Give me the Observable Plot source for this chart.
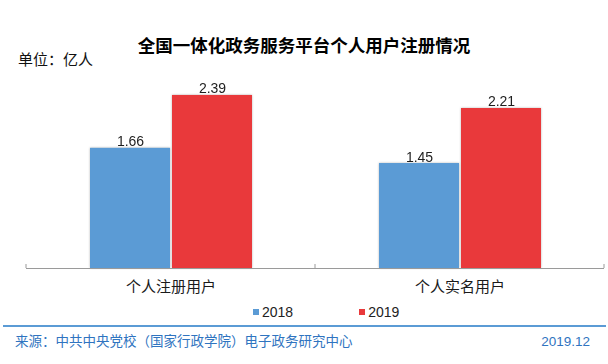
<!DOCTYPE html>
<html><head><meta charset="utf-8">
<script src="https://cdn.jsdelivr.net/npm/d3@7"></script>
<script src="https://cdn.jsdelivr.net/npm/@observablehq/plot@0.6"></script>
<style>
body{margin:0;background:#fff;}
#wrap{position:relative;width:608px;height:364px;overflow:hidden;font-family:"Noto Sans CJK SC","Noto Sans",sans-serif;}
.abs{position:absolute;white-space:nowrap;line-height:1;}
#chart{position:absolute;left:0;top:60px;}
</style></head><body>
<div id="wrap">
  <div class="abs" id="title" style="left:0;width:608px;text-align:center;top:36px;font-size:17.5px;font-weight:700;color:#000;"></div>
  <div class="abs" id="unit" style="left:18px;top:50.5px;font-size:15px;color:#111;"></div>
  <div id="chart"></div>
  <div class="abs" id="legend" style="left:253px;top:305px;height:14px;display:flex;align-items:center;font-family:'Liberation Sans',Arial,sans-serif;font-size:14px;color:#222;"></div>
  <div class="abs" style="left:3px;top:325px;width:603px;height:2px;background:#5B9BD5;"></div>
  <div class="abs" id="source" style="left:15px;top:334.2px;font-size:13.5px;color:#2f74c0;"></div>
  <div class="abs" id="date" style="right:18px;top:334.5px;font-size:13.5px;font-family:'Liberation Sans',Arial,sans-serif;color:#2f74c0;"></div>
</div>
<script>
const titleText = "全国一体化政务服务平台个人用户注册情况";
const unitText = "单位：亿人";
const sourceText = "来源：中共中央党校（国家行政学院）电子政务研究中心";
const dateText = "2019.12";
const categories = ["个人注册用户", "个人实名用户"];
const years = ["2018", "2019"];
const values2018 = [1.66, 1.45];
const values2019 = [2.39, 2.21];
const colors = ["#5B9BD5", "#E9393B"];

document.getElementById("title").textContent = titleText;
document.getElementById("unit").textContent = unitText;
document.getElementById("source").textContent = sourceText;
document.getElementById("date").textContent = dateText;

const data = categories.flatMap((c, i) => [
  {cat: c, year: years[0], value: values2018[i]},
  {cat: c, year: years[1], value: values2019[i]}
]);

const numFont = "'Liberation Sans', Arial, sans-serif";
const chart = Plot.plot({
  width: 608,
  height: 240,
  marginTop: 27,
  marginBottom: 32,
  marginLeft: 26,
  marginRight: 4,
  style: {background: "transparent", overflow: "visible"},
  facet: {marginTop: 0, marginBottom: 0, marginLeft: 0, marginRight: 0},
  fx: {domain: categories, padding: 0, label: null},
  x: {domain: years, paddingInner: 0, paddingOuter: 0.762, axis: null},
  y: {domain: [0, 2.5], axis: null},
  color: {domain: years, range: colors},
  marks: [
    Plot.barY(data, {fx: "cat", x: "year", y: "value", fill: "year", insetLeft: 1, insetRight: 1}),
    Plot.text(data, {fx: "cat", x: "year", y: "value", text: d => d.value.toFixed(2), dy: -6.5, fontSize: 14, fill: "#1e1e1e", fontFamily: numFont}),
    Plot.ruleY([0], {stroke: "#9a9a9a"}),
    Plot.axisFx({anchor: "bottom", tickSize: 0, tickPadding: 13, fontSize: 15, label: null, fill: "#1a1a1a", fontFamily: "'Noto Sans CJK SC', sans-serif"})
  ]
});
document.getElementById("chart").appendChild(chart);

// ticks at category boundaries, using the library's scales
const fx = chart.scale("fx");
const ys = chart.scale("y");
const y0 = ys.apply(0);
const edges = categories.map(c => fx.apply(c)).concat([fx.apply(categories[categories.length - 1]) + fx.bandwidth]);
const svg = d3.select(chart);
svg.append("g").selectAll("line").data(edges).join("line")
  .attr("x1", d => d).attr("x2", d => d)
  .attr("y1", y0 - 4).attr("y2", y0)
  .attr("stroke", "#9a9a9a");
svg.selectAll("g[aria-label='bar']").style("filter", "drop-shadow(0 0 1px rgba(0,0,0,0.28))");

// legend
const legend = d3.select("#legend");
years.forEach((yr, i) => {
  const item = legend.append("div").style("display", "flex").style("align-items", "center").style("margin-right", i === 0 ? "66px" : "0");
  item.append("div").style("width", "6px").style("height", "6px").style("background", colors[i]).style("margin-right", "3px");
  item.append("span").text(yr);
});
</script>
</body></html>
